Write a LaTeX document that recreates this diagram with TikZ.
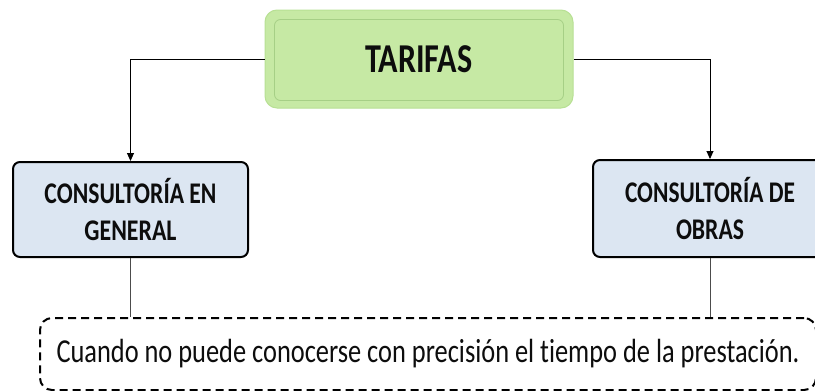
\documentclass[tikz,border=0pt]{standalone}
\usepackage{fontspec}
\setmainfont{Carlito}[Ligatures=NoCommon]
\usetikzlibrary{arrows.meta}
\definecolor{tgreen}{HTML}{C6E9A4}
\definecolor{tgreenedge}{HTML}{B8E094}
\definecolor{tgreenline}{HTML}{A6CF86}
\definecolor{lblue}{HTML}{DCE6F2}
\definecolor{txt}{HTML}{0D0D0D}
\tikzset{
  topbox/.style={fill=tgreen, draw=tgreenedge, line width=1pt, rounded corners=12pt, inner sep=0pt, text=txt},
  catbox/.style={fill=lblue, draw=black, line width=2pt, rounded corners=7pt, inner sep=0pt, align=center, text=txt,
    font=\fontsize{30}{37}\selectfont\bfseries},
  notebox/.style={draw=black, line width=2pt, dash pattern=on 8pt off 5pt, rounded corners=12pt, inner sep=0pt, text=txt},
  conn/.style={draw=black, line width=0.9pt},
  drop/.style={draw=black!70, line width=0.9pt}
}
\begin{document}
\begin{tikzpicture}[x=1pt,y=-1pt]
\useasboundingbox (0,0) rectangle (815,391);
\clip (0,0) rectangle (815,391);
\fill[white] (0,0) rectangle (815,391);
\node[topbox, minimum width=308pt, minimum height=98pt] (tarifas) at (419,59)
  {\resizebox{107pt}{\height}{\fontsize{41}{46}\selectfont\bfseries TARIFAS}};
\draw[tgreenline, line width=0.8pt, rounded corners=6pt]
  ([shift={(10,10)}]tarifas.north west) rectangle ([shift={(-10,-8)}]tarifas.south east);
\node[catbox, minimum width=235pt, minimum height=95pt] (gen) at (130.5,209.5)
  {\resizebox{172pt}{\height}{CONSULTORÍA EN}\\\resizebox{92pt}{\height}{GENERAL}};
\node[catbox, minimum width=234pt, minimum height=97pt] (obras) at (710,208.5)
  {\resizebox{170pt}{\height}{CONSULTORÍA DE}\\\resizebox{68pt}{\height}{OBRAS}};
\node[notebox, minimum width=776pt, minimum height=72pt] (note) at (428,354)
  {\resizebox{743pt}{\height}{\fontsize{33.5}{38}\selectfont Cuando no puede conocerse con precisión el tiempo de la prestación.}};
\draw[conn, -{Triangle[width=7pt,length=8pt]}] (tarifas.west) -| (gen.north);
\draw[conn, -{Triangle[width=7pt,length=8pt]}] (tarifas.east) -| (obras.north);
\draw[drop] (gen.south) -- (gen.south |- note.north);
\draw[drop] (obras.south) -- (obras.south |- note.north);
\end{tikzpicture}
\end{document}
